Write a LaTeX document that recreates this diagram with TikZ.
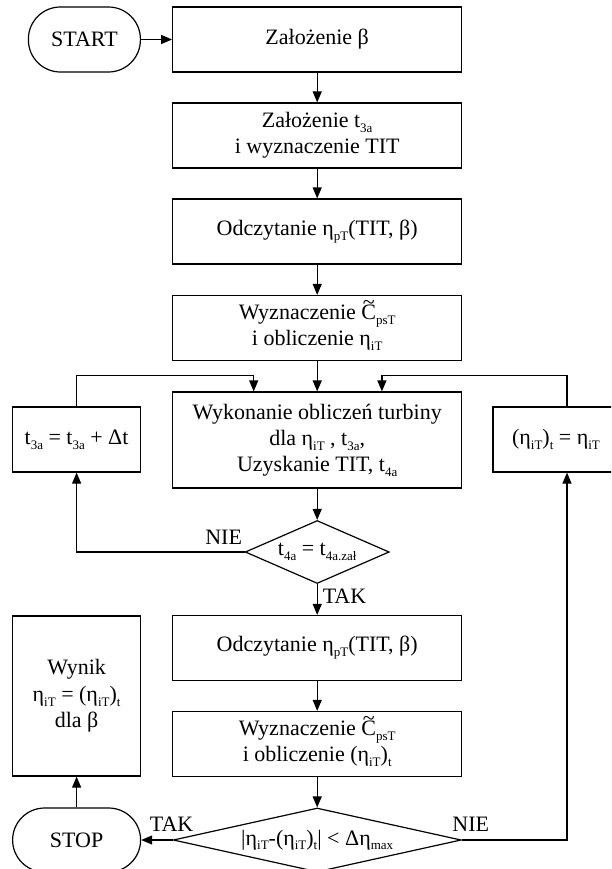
\documentclass[tikz,border=0pt]{standalone}
\usepackage{fontspec}
\setmainfont{Liberation Serif}
\usetikzlibrary{arrows.meta,shapes.geometric}
\newcommand{\idx}[1]{\raisebox{-0.22em}{\fontsize{13}{13}\selectfont #1}}
\newcommand{\Ct}{\ooalign{C\cr\hidewidth\raisebox{0.47em}{\char"7E}\hidewidth\cr}}
\begin{document}
\begin{tikzpicture}[x=1pt, y=-1pt, font=\fontsize{22}{26}\selectfont, line width=1.2pt, line join=miter, >={Triangle[length=11pt,width=9pt]},
		box/.style={draw, rectangle, minimum width=289pt, minimum height=65pt, inner sep=2pt, align=center},
		sidebox/.style={draw, rectangle, minimum width=128pt, minimum height=65pt, inner sep=2pt, align=center},
		term/.style={draw, rectangle, rounded corners=32pt, minimum width=112pt, minimum height=65pt, inner sep=2pt},
		dec/.style={draw, diamond, inner sep=0pt},
		lbl/.style={inner sep=2pt}]
			\useasboundingbox (0,0) rectangle (611,869);
			\clip (0,0) rectangle (611,869);
			\node[term] (start) at (84.4,39.5) {START};
			\node[box] (b1) at (317.2,39.5) {Założenie β};
			\node[box] (b2) at (317.2,135.5) {Założenie t\idx{3a}\\i wyznaczenie TIT};
			\node[box] (b3) at (317.2,231.5) {Odczytanie η\idx{pT}(TIT, β)};
			\node[box] (b4) at (317.2,328) {Wyznaczenie \Ct\idx{psT}\\i obliczenie η\idx{iT}};
			\node[box, minimum height=96pt] (b5) at (317.2,440) {Wykonanie obliczeń turbiny\\dla η\idx{iT} , t\idx{3a},\\Uzyskanie TIT, t\idx{4a}};
			\node[sidebox] (lb) at (76.6,439.5) {t\idx{3a} = t\idx{3a} + Δt};
			\node[sidebox, minimum width=126pt] (rb) at (556,439.5) {(η\idx{iT})\idx{t} = η\idx{iT}};
			\node[dec, minimum width=144pt, minimum height=63pt] (d1) at (317.2,552) {\makebox[0pt]{t\idx{4a} = t\idx{4a.zał}}};
			\node[box] (b6) at (317.2,648) {Odczytanie η\idx{pT}(TIT, β)};
			\node[box] (b7) at (317.2,744) {Wyznaczenie \Ct\idx{psT}\\i obliczenie (η\idx{iT})\idx{t}};
			\node[dec, minimum width=288pt, minimum height=64pt] (d2) at (317.2,840) {\makebox[0pt]{|η\idx{iT}-(η\idx{iT})\idx{t}| < Δη\idx{max}}};
			\node[sidebox, minimum height=160pt] (res) at (76.6,696) {Wynik\\[1pt]η\idx{iT} = (η\idx{iT})\idx{t}\\dla β};
			\node[term, minimum width=128pt, minimum height=64pt] (stop) at (76.6,840) {STOP};
			\coordinate (la) at ([xshift=-63.5pt]b5.north);
			\coordinate (ra) at ([xshift=64.7pt]b5.north);
			\coordinate (rt) at ([xshift=11pt]rb.north);
			\coordinate (rs) at ([xshift=11pt]rb.south);
			\draw[->] (start) -- (b1);
			\draw[->] (b1) -- (b2);
			\draw[->] (b2) -- (b3);
			\draw[->] (b3) -- (b4);
			\draw[->] (b4) -- (b5);
			\draw[->] (lb.north) |- ([yshift=16pt]la) -- (la);
			\draw[->] (rt) |- ([yshift=16pt]ra) -- (ra);
			\draw[->] (b5) -- (d1);
			\draw[->] (d1.west) -| (lb.south);
			\draw[->] (d1) -- node[lbl, right=3pt, pos=0.4] {TAK} (b6);
			\draw[->] (b6) -- (b7);
			\draw[->] (b7) -- (d2);
			\draw[->] (d2.west) -- (stop.east);
			\draw[->] (d2.east) -| (rs);
			\draw[->] (stop) -- (res);
			\node[lbl, anchor=south east] (nie1) at ([yshift=5pt]d1.west) {NIE};
			\node[lbl, anchor=south] (tak2) at ([xshift=-1pt, yshift=6pt]d2.west) {TAK};
			\node[lbl, anchor=south] (nie2) at ([xshift=9pt, yshift=6pt]d2.east) {NIE};
\end{tikzpicture}
\end{document}
